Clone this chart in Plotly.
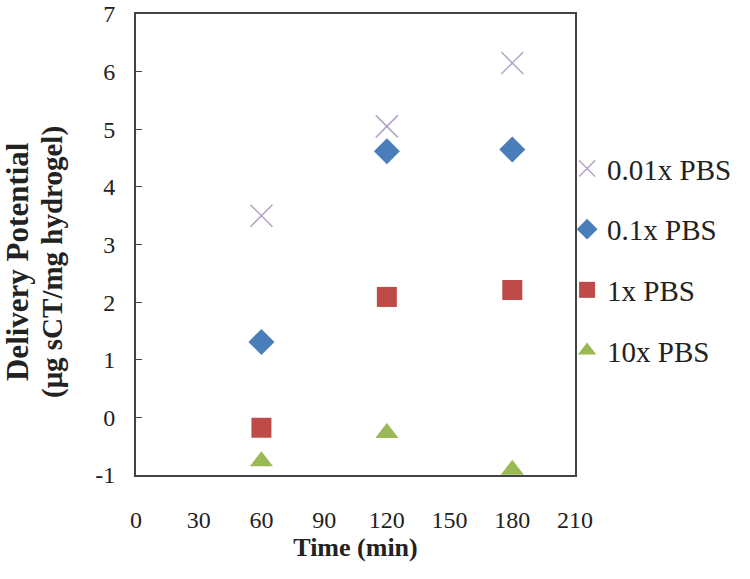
import plotly.graph_objects as go

times = [60, 120, 180]
pbs_001 = [3.50, 5.05, 6.15]
pbs_01 = [1.31, 4.62, 4.65]
pbs_1 = [-0.18, 2.09, 2.21]
pbs_10 = [-0.76, -0.27, -0.91]

x_ticks = [0, 30, 60, 90, 120, 150, 180, 210]
y_ticks = [-1, 0, 1, 2, 3, 4, 5, 6, 7]
y_tick_labels = ["-1", "0", "1", "2", "3", "4", "5", "6", "7"]

series = [
    ("0.01x PBS", pbs_001, "x-thin", "#B3A2C7", 22),
    ("0.1x PBS", pbs_01, "diamond", "#4A7EBB", 20),
    ("1x PBS", pbs_1, "square", "#BE4B48", 20),
    ("10x PBS", pbs_10, "triangle-up", "#98B954", 20),
]

fig = go.Figure()
for i, (name, vals, sym, col, sz) in enumerate(series):
    marker = dict(symbol=sym, size=sz, color=col)
    if sym == "x-thin":
        marker["line"] = dict(color=col, width=1.5)
    fig.add_trace(go.Scatter(x=times, y=vals, mode="markers", name=name,
                             marker=marker, legendgroup=str(i)))

font = "Liberation Serif, Times New Roman, serif"
fig.update_layout(
    width=750, height=579,
    margin=dict(l=136, r=175, t=14, b=104),
    paper_bgcolor="white", plot_bgcolor="white",
    font=dict(family=font, size=24, color="#222"),
    showlegend=True,
    legend=dict(x=0.982, xanchor="left", y=0.72, yanchor="top",
                bgcolor="rgba(0,0,0,0)", borderwidth=0,
                font=dict(size=29), tracegroupgap=20, itemwidth=30),
    xaxis=dict(range=[0, 210], tickvals=x_ticks,
               showline=True, linecolor="#444", linewidth=2, mirror=True,
               showgrid=False, zeroline=False, ticks="", automargin=False,
               ticklabelstandoff=22, ticklabeloverflow="allow",
               title=dict(text="<b>Time (min)</b>", standoff=2, font=dict(size=26))),
    yaxis=dict(range=[-1, 7], tickvals=y_ticks, ticktext=y_tick_labels,
               showline=True, linecolor="#444", linewidth=2, mirror=True,
               showgrid=False, zeroline=False, ticks="inside", ticklen=6,
               tickcolor="#444", automargin=False, ticklabelstandoff=14,
               ticklabeloverflow="allow"),
    annotations=[
        dict(text="<b>Delivery Potential</b>", xref="paper", yref="paper",
             x=(17 - 136) / 439, y=0.462, xanchor="center", yanchor="middle",
             textangle=-90, showarrow=False, font=dict(size=31)),
        dict(text="<b>(μg sCT/mg hydrogel)</b>", xref="paper", yref="paper",
             x=(52 - 136) / 439, y=0.462, xanchor="center", yanchor="middle",
             textangle=-90, showarrow=False, font=dict(size=29)),
    ],
)
fig.write_html("out.html", config={"displayModeBar": False},
               post_script="document.body.style.margin='0';")
